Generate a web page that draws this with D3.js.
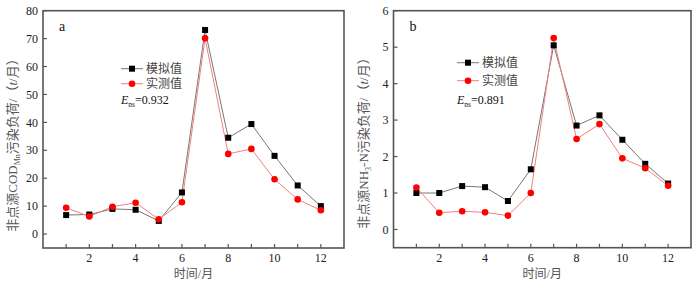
<!DOCTYPE html>
<html>
<head>
<meta charset="utf-8">
<script src="https://cdn.jsdelivr.net/npm/d3@7"></script>
<style>
  body { margin: 0; background: #fff; }
  svg text { font-family: "Liberation Serif", "Noto Sans CJK SC", serif; }
</style>
</head>
<body>
<div id="chart"></div>
<script>
// months
var months = [1, 2, 3, 4, 5, 6, 7, 8, 9, 10, 11, 12];
var xTicks = [2, 4, 6, 8, 10, 12];

// panel a: COD_Mn (t/month)
var codSim  = [6.8, 7.0, 9.0, 8.7, 4.7, 14.9, 73.1, 34.5, 39.4, 28.0, 17.4, 10.0];
var codMeas = [9.4, 6.3, 9.8, 11.2, 5.3, 11.4, 70.1, 28.7, 30.5, 19.6, 12.4, 8.5];
var codTicks = [0, 10, 20, 30, 40, 50, 60, 70, 80];

// panel b: NH3-N (t/month)
var nhSim  = [1.0, 1.0, 1.19, 1.16, 0.78, 1.65, 5.05, 2.85, 3.13, 2.46, 1.80, 1.26];
var nhMeas = [1.15, 0.46, 0.50, 0.47, 0.38, 1.0, 5.25, 2.48, 2.89, 1.95, 1.68, 1.2];
var nhTicks = [0, 1, 2, 3, 4, 5, 6];

var seriesNames = ["模拟值", "实测值"];
var ensValues = ["0.932", "0.891"];

var axisColor = "#555";
var simColor = "#000";
var simLine = "#777";
var measColor = "#ff0000";
var measLine = "#f08080";
var fontSize = 12;

var svg = d3.select("#chart").append("svg")
  .attr("width", 700)
  .attr("height", 281);

function drawPanel(opt) {
  var x = d3.scaleLinear().domain([0, 13]).range([opt.left, opt.right]);
  var y = d3.scaleLinear().domain(opt.yDomain).range([opt.bottom, opt.top]);
  var g = svg.append("g");

  // frame
  g.append("rect")
    .attr("x", opt.left).attr("y", opt.top)
    .attr("width", opt.right - opt.left).attr("height", opt.bottom - opt.top)
    .attr("fill", "none").attr("stroke", axisColor).attr("stroke-width", 1.6);

  // y ticks (inward)
  g.selectAll(".ytick").data(opt.yTicks).enter().append("line")
    .attr("x1", opt.left).attr("x2", opt.left + 4)
    .attr("y1", function(d) { return y(d); }).attr("y2", function(d) { return y(d); })
    .attr("stroke", axisColor).attr("stroke-width", 1.2);
  g.selectAll(".ylab").data(opt.yTicks).enter().append("text")
    .attr("x", opt.left - 5)
    .attr("y", function(d) { return y(d); })
    .attr("dy", "0.35em")
    .attr("text-anchor", "end")
    .attr("font-size", fontSize)
    .attr("fill", "#222")
    .text(function(d) { return d; });

  // x ticks (inward), every month
  g.selectAll(".xtick").data(months).enter().append("line")
    .attr("x1", function(d) { return x(d); }).attr("x2", function(d) { return x(d); })
    .attr("y1", opt.bottom).attr("y2", opt.bottom - 4)
    .attr("stroke", axisColor).attr("stroke-width", 1.2);
  g.selectAll(".xlab").data(xTicks).enter().append("text")
    .attr("x", function(d) { return x(d); })
    .attr("y", opt.bottom + 14)
    .attr("text-anchor", "middle")
    .attr("font-size", fontSize)
    .attr("fill", "#222")
    .text(function(d) { return d; });

  // x label
  g.append("text")
    .attr("x", (opt.left + opt.right) / 2)
    .attr("y", 278)
    .attr("text-anchor", "middle")
    .attr("font-size", fontSize)
    .attr("fill", "#555")
    .text("时间/月");

  // y label
  var yl = g.append("text")
    .attr("transform", "translate(" + (opt.left - 26) + "," + opt.yLabelMid + ") rotate(-90)")
    .attr("text-anchor", "middle")
    .attr("font-size", 13)
    .attr("fill", "#555");
  yl.append("tspan").text("非点源" + opt.chem);
  yl.append("tspan").attr("font-size", 8).attr("dy", 3).text(opt.sub);
  yl.append("tspan").attr("dy", -3).text(opt.chem2 + "污染负荷/（");
  yl.append("tspan").attr("font-style", "italic").text("t");
  yl.append("tspan").text("/月）");

  // panel letter
  g.append("text")
    .attr("x", opt.left + 16).attr("y", opt.top + 20)
    .attr("font-size", 14).attr("fill", "#111")
    .text(opt.letter);

  var line = d3.line()
    .x(function(d, i) { return x(months[i]); })
    .y(function(d) { return y(d); });

  g.append("path").datum(opt.sim)
    .attr("d", line).attr("fill", "none")
    .attr("stroke", simLine).attr("stroke-width", 1);
  g.append("path").datum(opt.meas)
    .attr("d", line).attr("fill", "none")
    .attr("stroke", measLine).attr("stroke-width", 1);

  g.selectAll(".sq").data(opt.sim).enter().append("rect")
    .attr("x", function(d, i) { return x(months[i]) - 3; })
    .attr("y", function(d) { return y(d) - 3; })
    .attr("width", 6).attr("height", 6)
    .attr("fill", simColor);
  g.selectAll(".ci").data(opt.meas).enter().append("circle")
    .attr("cx", function(d, i) { return x(months[i]); })
    .attr("cy", function(d) { return y(d); })
    .attr("r", 3.3)
    .attr("fill", measColor);

  // legend
  var lx = opt.legX, ly = opt.legY;
  var leg = g.append("g");
  leg.append("line").attr("x1", lx).attr("x2", lx + 22).attr("y1", ly).attr("y2", ly)
    .attr("stroke", simLine).attr("stroke-width", 1);
  leg.append("rect").attr("x", lx + 8).attr("y", ly - 3).attr("width", 6).attr("height", 6)
    .attr("fill", simColor);
  leg.append("line").attr("x1", lx).attr("x2", lx + 22).attr("y1", ly + opt.legGap).attr("y2", ly + opt.legGap)
    .attr("stroke", measLine).attr("stroke-width", 1);
  leg.append("circle").attr("cx", lx + 11).attr("cy", ly + opt.legGap).attr("r", 3.3)
    .attr("fill", measColor);
  leg.selectAll(".lt").data(seriesNames).enter().append("text")
    .attr("x", lx + 25)
    .attr("y", function(d, i) { return ly + i * opt.legGap; })
    .attr("dy", "0.38em")
    .attr("font-size", fontSize)
    .attr("fill", "#444")
    .text(function(d) { return d; });

  var ens = leg.append("text")
    .attr("x", lx).attr("y", ly + opt.legGap * 2 + 5)
    .attr("font-size", fontSize).attr("fill", "#111");
  ens.append("tspan").attr("font-style", "italic").text("E");
  ens.append("tspan").attr("font-size", 7.5).attr("dy", 3).text("ns");
  ens.append("tspan").attr("dy", -3).text("=" + opt.ens);
}

drawPanel({
  left: 43, right: 344, top: 10.7, bottom: 248,
  yDomain: [-5, 80], yTicks: codTicks,
  sim: codSim, meas: codMeas,
  chem: "COD", sub: "Mn", chem2: "",
  letter: "a", ens: ensValues[0],
  legX: 121, legY: 68.7, legGap: 15, yLabelMid: 142
});

drawPanel({
  left: 393.5, right: 691, top: 10.7, bottom: 247.7,
  yDomain: [-0.5, 6], yTicks: nhTicks,
  sim: nhSim, meas: nhMeas,
  chem: "NH", sub: "3", chem2: "-N",
  letter: "b", ens: ensValues[1],
  legX: 457, legY: 62.7, legGap: 18, yLabelMid: 140
});
</script>
</body>
</html>
